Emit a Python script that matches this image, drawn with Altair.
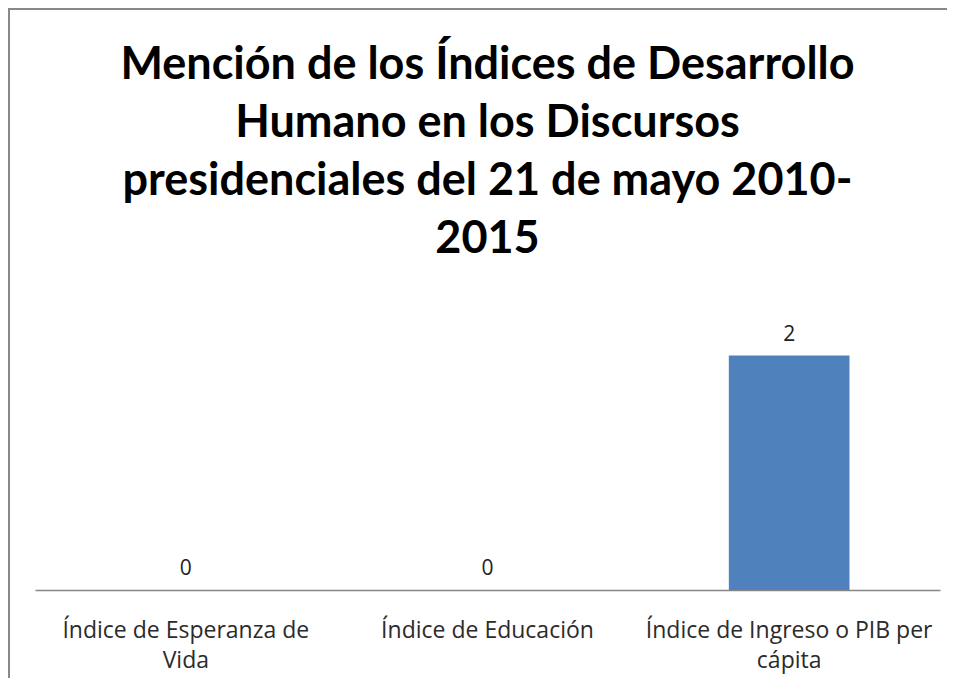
import altair as alt
import pandas as pd

categories = ["Índice de Esperanza de Vida", "Índice de Educación", "Índice de Ingreso o PIB per cápita"]
values = [0, 0, 2]
title_lines = ["Mención de los Índices de Desarrollo", "Humano en los Discursos",
               "presidenciales del 21 de mayo 2010-", "2015"]

df = pd.DataFrame({"cat": categories, "val": values})

label_expr = (
    "datum.label == 'Índice de Esperanza de Vida' ? ['Índice de Esperanza de', 'Vida'] : "
    "datum.label == 'Índice de Ingreso o PIB per cápita' ? ['Índice de Ingreso o PIB per', 'cápita'] : datum.label"
)

W, H = 905, 293
PL, PT, PR, PB = 27, 289, 7, 88

x = alt.X("cat:N", sort=categories, title=None,
          scale=alt.Scale(paddingInner=0.6, paddingOuter=0.3),
          axis=alt.Axis(labelExpr=label_expr, labelAngle=0, ticks=False, domainColor="#868686",
                        domainWidth=1.5, labelFont="Open Sans", labelFontSize=23, labelColor="#2b2b2b",
                        labelPadding=29, labelLineHeight=30, labelLimit=400))
y = alt.Y("val:Q", scale=alt.Scale(domain=[0, 2.5]), axis=None)

bars = alt.Chart(df).mark_bar(color="#4F81BD").encode(x=x, y=y)
labels = alt.Chart(df).mark_text(baseline="alphabetic", dy=-15, font="Open Sans", fontSize=21,
                                 color="#222222").encode(
    x=alt.X("cat:N", sort=categories), y=y, text="val:Q")
one = alt.Data(values=[{}])
frame_left = alt.Chart(one).mark_rule(stroke="#888888", strokeWidth=2).encode(
    x=alt.value(-PL + 1), y=alt.value(-PT + 1), y2=alt.value(H + PB + 20))
frame_top = alt.Chart(one).mark_rule(stroke="#888888", strokeWidth=2).encode(
    x=alt.value(-PL), x2=alt.value(W + PR + 20), y=alt.value(-PT + 1))
title = alt.Chart(one).mark_text(
    font="Lato", fontSize=45, fontWeight="bold", color="#000000", align="center",
    baseline="alphabetic", lineHeight=58).encode(
    x=alt.value(W / 2), y=alt.value(79 - (8 + PT)), text=alt.value(title_lines))

chart = alt.layer(frame_left, frame_top, bars, labels, title).properties(
    width=W, height=H,
    autosize=alt.AutoSizeParams(type="none"),
    padding={"left": PL, "top": PT, "right": PR, "bottom": PB},
).configure_view(stroke=None)

chart.save("out.html", embed_options={"renderer": "svg", "actions": False})
